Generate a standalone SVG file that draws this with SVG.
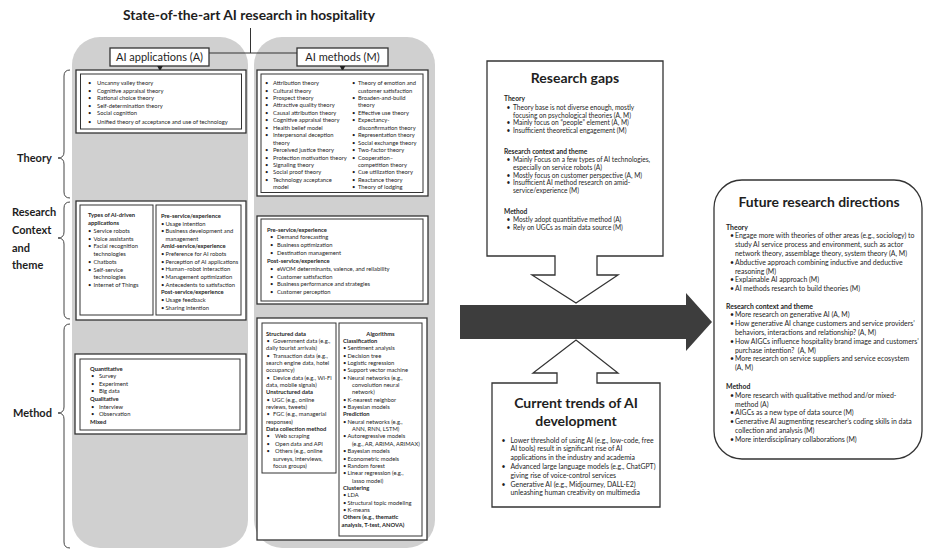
<svg xmlns="http://www.w3.org/2000/svg" width="927" height="550" viewBox="0 0 927 550">
<style>
text{font-family:Lato,"Liberation Sans",sans-serif;fill:#1e1e1e}
.s{font-size:5.8px}
.sb{font-size:5.8px;font-weight:bold}
.m{font-size:6.9px}
.mb{font-size:6.9px;font-weight:bold}
.g{font-size:6.6px}
.gb{font-size:6.6px;font-weight:bold}
.lab{font-size:11px;font-weight:bold}
.ttl{font-size:13.8px;font-weight:bold}
.hd{font-size:14px;font-weight:bold}
.bx{font-size:11px}
.panel{fill:#d0d0d0}
.fr{fill:#fff;stroke:#333;stroke-width:1.3}
.in{fill:none;stroke:#333;stroke-width:1}
.ln{fill:none;stroke:#333;stroke-width:1}
.br{fill:none;stroke:#444;stroke-width:1}
</style>
<defs>
<marker id="tri" viewBox="0 0 6 6" refX="3" refY="3" markerWidth="6" markerHeight="6" orient="auto"><path d="M0,0 L6,3 L0,6 Z" fill="#222"/></marker>
</defs>

<g id="title"><text class="ttl" x="249" y="19.5" text-anchor="middle">State-of-the-art AI research in hospitality</text></g>

<g id="panels">
<rect class="panel" x="72" y="37" width="176" height="511" rx="28"/>
<rect class="panel" x="254" y="37" width="181" height="511" rx="28"/>
</g>

<g id="labels">
<text class="lab" x="17" y="162">Theory</text>
<path class="br" d="M70,70 Q64,70 64,76 V152 Q64,158 58,158 Q64,158 64,164 V192 Q64,198 70,198"/>
<text class="lab" x="12" y="216">Research</text>
<text class="lab" x="12" y="234">Context</text>
<text class="lab" x="12" y="252">and</text>
<text class="lab" x="12" y="269">theme</text>
<path class="br" d="M70,202 Q64,202 64,208 V232 Q64,238 58,238 Q64,238 64,244 V313 Q64,319 70,319"/>
<text class="lab" x="13" y="417">Method</text>
<path class="br" d="M70,324 Q64,324 64,330 V407 Q64,413 58,413 Q64,413 64,419 V542 Q64,548 70,548"/>
</g>

<g id="ai-applications">
<rect class="fr" x="110" y="48" width="99" height="18"/>
<text class="bx" x="159.5" y="61" text-anchor="middle">AI applications (A)</text>
</g>
<g id="ai-methods">
<rect class="fr" x="297" y="48" width="91" height="18"/>
<text class="bx" x="342.5" y="61" text-anchor="middle">AI methods (M)</text>
</g>

<g id="connectors">
<path class="ln" d="M250.5,28 V53 M209,53 H297"/>
<path class="ln" d="M160,66 V68.5" marker-end="url(#tri)"/>
<path class="ln" d="M342.5,66 V68.5" marker-end="url(#tri)"/>
</g>

<g id="theory-a">
<rect class="fr" x="76" y="70" width="170" height="63"/>
<rect class="in" x="80.5" y="74" width="161" height="55"/>
<text class="s"><tspan x="88" y="85">•</tspan><tspan x="97" y="85">Uncanny valley theory</tspan></text>
<text class="s"><tspan x="88" y="92.5">•</tspan><tspan x="97" y="92.5">Cognitive appraisal theory</tspan></text>
<text class="s"><tspan x="88" y="100">•</tspan><tspan x="97" y="100">Rational choice theory</tspan></text>
<text class="s"><tspan x="88" y="107.5">•</tspan><tspan x="97" y="107.5">Self-determination theory</tspan></text>
<text class="s"><tspan x="88" y="115">•</tspan><tspan x="97" y="115">Social cognition</tspan></text>
<text class="s"><tspan x="88" y="124">•</tspan><tspan x="97" y="124">Unified theory of acceptance and use of technology</tspan></text>
</g>

<g id="theory-m">
<rect class="fr" x="257" y="70" width="171" height="126"/>
<rect class="in" x="261" y="74" width="162" height="118.5"/>
<text class="s"><tspan x="265" y="85">•</tspan><tspan x="273" y="85">Attribution theory</tspan></text>
<text class="s"><tspan x="265" y="92.5">•</tspan><tspan x="273" y="92.5">Cultural theory</tspan></text>
<text class="s"><tspan x="265" y="99.9">•</tspan><tspan x="273" y="99.9">Prospect theory</tspan></text>
<text class="s"><tspan x="265" y="107.4">•</tspan><tspan x="273" y="107.4">Attractive quality theory</tspan></text>
<text class="s"><tspan x="265" y="114.8">•</tspan><tspan x="273" y="114.8">Causal attribution theory</tspan></text>
<text class="s"><tspan x="265" y="122.3">•</tspan><tspan x="273" y="122.3">Cognitive appraisal theory</tspan></text>
<text class="s"><tspan x="265" y="129.7">•</tspan><tspan x="273" y="129.7">Health belief model</tspan></text>
<text class="s"><tspan x="265" y="137.2">•</tspan><tspan x="273" y="137.2">Interpersonal deception</tspan></text>
<text class="s" x="273" y="144.6">theory</text>
<text class="s"><tspan x="265" y="152.1">•</tspan><tspan x="273" y="152.1">Perceived justice theory</tspan></text>
<text class="s"><tspan x="265" y="159.5">•</tspan><tspan x="273" y="159.5">Protection motivation theory</tspan></text>
<text class="s"><tspan x="265" y="167">•</tspan><tspan x="273" y="167">Signaling theory</tspan></text>
<text class="s"><tspan x="265" y="174.4">•</tspan><tspan x="273" y="174.4">Social proof theory</tspan></text>
<text class="s"><tspan x="265" y="181.9">•</tspan><tspan x="273" y="181.9">Technology acceptance</tspan></text>
<text class="s" x="273" y="189.3">model</text>
<text class="s"><tspan x="352" y="85">•</tspan><tspan x="358" y="85">Theory of emotion and</tspan></text>
<text class="s" x="358" y="92.5">customer satisfaction</text>
<text class="s"><tspan x="352" y="99.9">•</tspan><tspan x="358" y="99.9">Broaden-and-build</tspan></text>
<text class="s" x="358" y="107.4">theory</text>
<text class="s"><tspan x="352" y="114.8">•</tspan><tspan x="358" y="114.8">Effective use theory</tspan></text>
<text class="s"><tspan x="352" y="122.3">•</tspan><tspan x="358" y="122.3">Expectancy-</tspan></text>
<text class="s" x="358" y="129.7">disconfirmation theory</text>
<text class="s"><tspan x="352" y="137.2">•</tspan><tspan x="358" y="137.2">Representation theory</tspan></text>
<text class="s"><tspan x="352" y="144.6">•</tspan><tspan x="358" y="144.6">Social exchange theory</tspan></text>
<text class="s"><tspan x="352" y="152.1">•</tspan><tspan x="358" y="152.1">Two-factor theory</tspan></text>
<text class="s"><tspan x="352" y="159.5">•</tspan><tspan x="358" y="159.5">Cooperation–</tspan></text>
<text class="s" x="358" y="167">competition theory</text>
<text class="s"><tspan x="352" y="174.4">•</tspan><tspan x="358" y="174.4">Cue utilization theory</tspan></text>
<text class="s"><tspan x="352" y="181.9">•</tspan><tspan x="358" y="181.9">Reactance theory</tspan></text>
<text class="s"><tspan x="352" y="189.3">•</tspan><tspan x="358" y="189.3">Theory of lodging</tspan></text>
</g>

<g id="context-a">
<rect class="fr" x="76" y="201" width="170" height="119"/>
<rect class="in" x="80" y="205" width="73" height="110"/>
<rect class="in" x="156" y="205" width="85" height="110"/>
<text class="sb" x="88" y="217.2">Types of AI-driven</text>
<text class="sb" x="88" y="225">applications</text>
<text class="s"><tspan x="88" y="232.8">•</tspan><tspan x="93.5" y="232.8">Service robots</tspan></text>
<text class="s"><tspan x="88" y="240.5">•</tspan><tspan x="93.5" y="240.5">Voice assistants</tspan></text>
<text class="s"><tspan x="88" y="248.3">•</tspan><tspan x="93.5" y="248.3">Facial recognition</tspan></text>
<text class="s" x="93.5" y="256.1">technologies</text>
<text class="s"><tspan x="88" y="263.9">•</tspan><tspan x="93.5" y="263.9">Chatbots</tspan></text>
<text class="s"><tspan x="88" y="271.7">•</tspan><tspan x="93.5" y="271.7">Self-service</tspan></text>
<text class="s" x="93.5" y="279.4">technologies</text>
<text class="s"><tspan x="88" y="287.2">•</tspan><tspan x="93.5" y="287.2">Internet of Things</tspan></text>
<text class="sb" x="161" y="217.9">Pre-service/experience</text>
<text class="s"><tspan x="161" y="225.5">•</tspan><tspan x="165.5" y="225.5">Usage intention</tspan></text>
<text class="s"><tspan x="161" y="233.2">•</tspan><tspan x="165.5" y="233.2">Business development and</tspan></text>
<text class="s" x="165.5" y="240.8">management</text>
<text class="sb" x="161" y="248.4">Amid-service/experience</text>
<text class="s"><tspan x="161" y="256.1">•</tspan><tspan x="165.5" y="256.1">Preference for AI robots</tspan></text>
<text class="s"><tspan x="161" y="263.7">•</tspan><tspan x="165.5" y="263.7">Perception of AI applications</tspan></text>
<text class="s"><tspan x="161" y="271.3">•</tspan><tspan x="165.5" y="271.3">Human–robot interaction</tspan></text>
<text class="s"><tspan x="161" y="279">•</tspan><tspan x="165.5" y="279">Management optimization</tspan></text>
<text class="s"><tspan x="161" y="286.6">•</tspan><tspan x="165.5" y="286.6">Antecedents to satisfaction</tspan></text>
<text class="sb" x="161" y="294.2">Post-service/experience</text>
<text class="s"><tspan x="161" y="301.8">•</tspan><tspan x="165.5" y="301.8">Usage feedback</tspan></text>
<text class="s"><tspan x="161" y="309.5">•</tspan><tspan x="165.5" y="309.5">Sharing intention</tspan></text>
</g>

<g id="context-m">
<rect class="fr" x="257" y="216" width="171" height="88"/>
<rect class="in" x="261" y="219" width="162" height="82"/>
<text class="sb" x="267" y="231.5">Pre-service/experience</text>
<text class="s"><tspan x="270" y="239.3">•</tspan><tspan x="277" y="239.3">Demand forecasting</tspan></text>
<text class="s"><tspan x="270" y="247">•</tspan><tspan x="277" y="247">Business optimization</tspan></text>
<text class="s"><tspan x="270" y="254.7">•</tspan><tspan x="277" y="254.7">Destination management</tspan></text>
<text class="sb" x="267" y="263">Post-service/experience</text>
<text class="s"><tspan x="270" y="270.8">•</tspan><tspan x="277" y="270.8">eWOM determinants, valence, and reliability</tspan></text>
<text class="s"><tspan x="270" y="278.5">•</tspan><tspan x="277" y="278.5">Customer satisfaction</tspan></text>
<text class="s"><tspan x="270" y="286.2">•</tspan><tspan x="277" y="286.2">Business performance and strategies</tspan></text>
<text class="s"><tspan x="270" y="294">•</tspan><tspan x="277" y="294">Customer perception</tspan></text>
</g>

<g id="method-a">
<rect class="fr" x="75" y="354" width="171" height="80"/>
<rect class="in" x="80" y="359" width="160" height="71"/>
<text class="sb" x="90" y="370.5">Quantitative</text>
<text class="s"><tspan x="91" y="378.2">•</tspan><tspan x="99" y="378.2">Survey</tspan></text>
<text class="s"><tspan x="91" y="385.9">•</tspan><tspan x="99" y="385.9">Experiment</tspan></text>
<text class="s"><tspan x="91" y="393.2">•</tspan><tspan x="99" y="393.2">Big data</tspan></text>
<text class="sb" x="90" y="400.9">Qualitative</text>
<text class="s"><tspan x="91" y="408.9">•</tspan><tspan x="99" y="408.9">Interview</tspan></text>
<text class="s"><tspan x="91" y="416.2">•</tspan><tspan x="99" y="416.2">Observation</tspan></text>
<text class="sb" x="90" y="423.9">Mixed</text>
</g>

<g id="method-m">
<rect class="fr" x="257" y="318" width="170" height="222"/>
<rect class="in" x="262" y="323" width="74" height="150"/>
<rect class="in" x="339" y="323" width="83" height="213"/>
<text class="sb" x="266" y="335.5">Structured data</text>
<text class="s"><tspan x="266.5" y="342.9">•</tspan><tspan x="273" y="342.9">Government data (e.g.,</tspan></text>
<text class="s" x="266" y="350.2">daily tourist arrivals)</text>
<text class="s"><tspan x="266.5" y="357.6">•</tspan><tspan x="273" y="357.6">Transaction data (e.g.,</tspan></text>
<text class="s" x="266" y="364.9">search engine data, hotel</text>
<text class="s" x="266" y="372.3">occupancy)</text>
<text class="s"><tspan x="266.5" y="379.6">•</tspan><tspan x="273" y="379.6">Device data (e.g., Wi-Fi</tspan></text>
<text class="s" x="266" y="387">data, mobile signals)</text>
<text class="sb" x="266" y="394.3">Unstructured data</text>
<text class="s"><tspan x="266.5" y="401.7">•</tspan><tspan x="272" y="401.7">UGC (e.g., online</tspan></text>
<text class="s" x="266" y="409">reviews, tweets)</text>
<text class="s"><tspan x="266.5" y="416.4">•</tspan><tspan x="273" y="416.4">FGC (e.g., managerial</tspan></text>
<text class="s" x="266" y="423.7">responses)</text>
<text class="sb" x="266" y="431.1">Data collection method</text>
<text class="s"><tspan x="266.5" y="438.4">•</tspan><tspan x="275" y="438.4">Web scraping</tspan></text>
<text class="s"><tspan x="266.5" y="445.8">•</tspan><tspan x="275" y="445.8">Open data and API</tspan></text>
<text class="s"><tspan x="266.5" y="453.1">•</tspan><tspan x="275" y="453.1">Others (e.g., online</tspan></text>
<text class="s" x="273" y="460.5">surveys, interviews,</text>
<text class="s" x="273" y="467.8">focus groups)</text>
<text class="sb" x="380.5" y="335.5" text-anchor="middle">Algorithms</text>
<text class="sb" x="343" y="342.9">Classification</text>
<text class="s"><tspan x="343" y="350.2">•</tspan><tspan x="347.5" y="350.2">Sentiment analysis</tspan></text>
<text class="s"><tspan x="343" y="357.6">•</tspan><tspan x="347.5" y="357.6">Decision tree</tspan></text>
<text class="s"><tspan x="343" y="364.9">•</tspan><tspan x="347.5" y="364.9">Logistic regression</tspan></text>
<text class="s"><tspan x="343" y="372.3">•</tspan><tspan x="347.5" y="372.3">Support vector machine</tspan></text>
<text class="s"><tspan x="343" y="379.6">•</tspan><tspan x="347.5" y="379.6">Neural networks (e.g.,</tspan></text>
<text class="s" x="352" y="387">convolution neural</text>
<text class="s" x="352" y="394.3">network)</text>
<text class="s"><tspan x="343" y="401.7">•</tspan><tspan x="347.5" y="401.7">K-nearest neighbor</tspan></text>
<text class="s"><tspan x="343" y="409">•</tspan><tspan x="347.5" y="409">Bayesian models</tspan></text>
<text class="sb" x="343" y="416.4">Prediction</text>
<text class="s"><tspan x="343" y="423.7">•</tspan><tspan x="347.5" y="423.7">Neural networks (e.g.,</tspan></text>
<text class="s" x="352" y="431.1">ANN, RNN, LSTM)</text>
<text class="s"><tspan x="343" y="438.4">•</tspan><tspan x="347.5" y="438.4">Autoregressive models</tspan></text>
<text class="s" x="352" y="445.8">(e.g., AR, ARIMA, ARIMAX)</text>
<text class="s"><tspan x="343" y="453.1">•</tspan><tspan x="347.5" y="453.1">Bayesian models</tspan></text>
<text class="s"><tspan x="343" y="460.5">•</tspan><tspan x="347.5" y="460.5">Econometric models</tspan></text>
<text class="s"><tspan x="343" y="467.8">•</tspan><tspan x="347.5" y="467.8">Random forest</tspan></text>
<text class="s"><tspan x="343" y="475.2">•</tspan><tspan x="347.5" y="475.2">Linear regression (e.g.,</tspan></text>
<text class="s" x="352" y="482.5">lasso model)</text>
<text class="sb" x="343" y="489.9">Clustering</text>
<text class="s"><tspan x="343" y="497.2">•</tspan><tspan x="347.5" y="497.2">LDA</tspan></text>
<text class="s"><tspan x="343" y="504.6">•</tspan><tspan x="347.5" y="504.6">Structural topic modeling</tspan></text>
<text class="s"><tspan x="343" y="511.9">•</tspan><tspan x="347.5" y="511.9">K-means</tspan></text>
<text class="sb" x="343" y="519.3">Others (e.g., thematic</text>
<text class="sb" x="341.5" y="526.6">analysis, T-test, ANOVA)</text>
</g>

<g id="big-arrow">
<path d="M460,305 H686 V293 L712,322 L686,351 V339 H460 Z" fill="#3d3d3d"/>
</g>

<g id="research-gaps">
<path class="fr" d="M487,61 H663 V256 H597 V275 H618 L576,303 L532,275 H555 V256 H487 Z"/>
<text class="hd" x="575" y="83" text-anchor="middle">Research gaps</text>
<text class="gb" x="504" y="100.8">Theory</text>
<text class="g"><tspan x="506.5" y="109.8">•</tspan><tspan x="513" y="109.8">Theory base is not diverse enough, mostly</tspan></text>
<text class="g" x="513" y="117.5">focusing on psychological theories (A, M)</text>
<text class="g"><tspan x="506.5" y="125.2">•</tspan><tspan x="513" y="125.2">Mainly focus on “people” element (A, M)</tspan></text>
<text class="g"><tspan x="506.5" y="133">•</tspan><tspan x="513" y="133">Insufficient theoretical engagement (M)</tspan></text>
<text class="gb" x="504" y="154">Research context and theme</text>
<text class="g"><tspan x="506.5" y="162">•</tspan><tspan x="513" y="162">Mainly Focus on a few types of AI technologies,</tspan></text>
<text class="g" x="513" y="169.8">especially on service robots (A)</text>
<text class="g"><tspan x="506.5" y="177.5">•</tspan><tspan x="513" y="177.5">Mostly focus on customer perspective (A, M)</tspan></text>
<text class="g"><tspan x="506.5" y="185.2">•</tspan><tspan x="513" y="185.2">Insufficient AI method research on amid-</tspan></text>
<text class="g" x="513" y="193">service/experience (M)</text>
<text class="gb" x="504" y="214">Method</text>
<text class="g"><tspan x="506.5" y="222">•</tspan><tspan x="513" y="222">Mostly adopt quantitative method (A)</tspan></text>
<text class="g"><tspan x="506.5" y="229.7">•</tspan><tspan x="513" y="229.7">Rely on UGCs as main data source (M)</tspan></text>
</g>

<g id="current-trends">
<path class="fr" d="M492,383 H557 V373 H533 L576,340 L618,373 H597 V383 H660 V507 H492 Z"/>
<text class="hd" x="576" y="408" text-anchor="middle">Current trends of AI</text>
<text class="hd" x="576" y="426" text-anchor="middle">development</text>
<text class="m"><tspan x="501.5" y="442.5">•</tspan><tspan x="510.5" y="442.5">Lower threshold of using AI (e.g., low-code, free</tspan></text>
<text class="m" x="510.5" y="451.3">AI tools) result in significant rise of AI</text>
<text class="m" x="510.5" y="460.1">applications in the industry and academia</text>
<text class="m"><tspan x="501.5" y="468.9">•</tspan><tspan x="510.5" y="468.9">Advanced large language models (e.g., ChatGPT)</tspan></text>
<text class="m" x="510.5" y="477.7">giving rise of voice-control services</text>
<text class="m"><tspan x="501.5" y="486.5">•</tspan><tspan x="510.5" y="486.5">Generative AI (e.g., Midjourney, DALL-E2)</tspan></text>
<text class="m" x="510.5" y="495.3">unleashing human creativity on multimedia</text>
</g>

<g id="future-directions">
<rect class="fr" x="714" y="180" width="208" height="279" rx="28"/>
<text class="hd" x="819" y="206.5" text-anchor="middle" style="font-size:13.9px">Future research directions</text>
<text class="mb" x="726" y="229.5">Theory</text>
<text class="m"><tspan x="730" y="238.3">•</tspan><tspan x="735" y="238.3">Engage more with theories of other areas (e.g., sociology) to</tspan></text>
<text class="m" x="735" y="247.1">study AI service process and environment, such as actor</text>
<text class="m" x="735" y="255.9">network theory, assemblage theory, system theory (A, M)</text>
<text class="m"><tspan x="730" y="264.7">•</tspan><tspan x="735" y="264.7">Abductive approach combining inductive and deductive</tspan></text>
<text class="m" x="735" y="273.5">reasoning (M)</text>
<text class="m"><tspan x="730" y="282.3">•</tspan><tspan x="735" y="282.3">Explainable AI approach (M)</tspan></text>
<text class="m"><tspan x="730" y="291.1">•</tspan><tspan x="735" y="291.1">AI methods research to build theories (M)</tspan></text>
<text class="mb" x="726" y="308.5">Research context and theme</text>
<text class="m"><tspan x="730" y="317.3">•</tspan><tspan x="735" y="317.3">More research on generative AI (A, M)</tspan></text>
<text class="m"><tspan x="730" y="326.1">•</tspan><tspan x="735" y="326.1">How generative AI change customers and service providers’</tspan></text>
<text class="m" x="735" y="334.9">behaviors, interactions and relationship? (A, M)</text>
<text class="m"><tspan x="730" y="343.7">•</tspan><tspan x="735" y="343.7">How AIGCs influence hospitality brand image and customers’</tspan></text>
<text class="m" x="735" y="352.5" xml:space="preserve">purchase intention?  (A, M)</text>
<text class="m"><tspan x="730" y="361.3">•</tspan><tspan x="735" y="361.3">More research on service suppliers and service ecosystem</tspan></text>
<text class="m" x="735" y="370.1">(A, M)</text>
<text class="mb" x="726" y="389">Method</text>
<text class="m"><tspan x="730" y="397.8">•</tspan><tspan x="735" y="397.8">More research with qualitative method and/or mixed-</tspan></text>
<text class="m" x="735" y="406.6">method (A)</text>
<text class="m"><tspan x="730" y="415.4">•</tspan><tspan x="735" y="415.4">AIGCs as a new type of data source (M)</tspan></text>
<text class="m"><tspan x="730" y="424.2">•</tspan><tspan x="735" y="424.2">Generative AI augmenting researcher’s coding skills in data</tspan></text>
<text class="m" x="735" y="433">collection and analysis (M)</text>
<text class="m"><tspan x="730" y="441.8">•</tspan><tspan x="735" y="441.8">More interdisciplinary collaborations (M)</tspan></text>
</g>
</svg>
